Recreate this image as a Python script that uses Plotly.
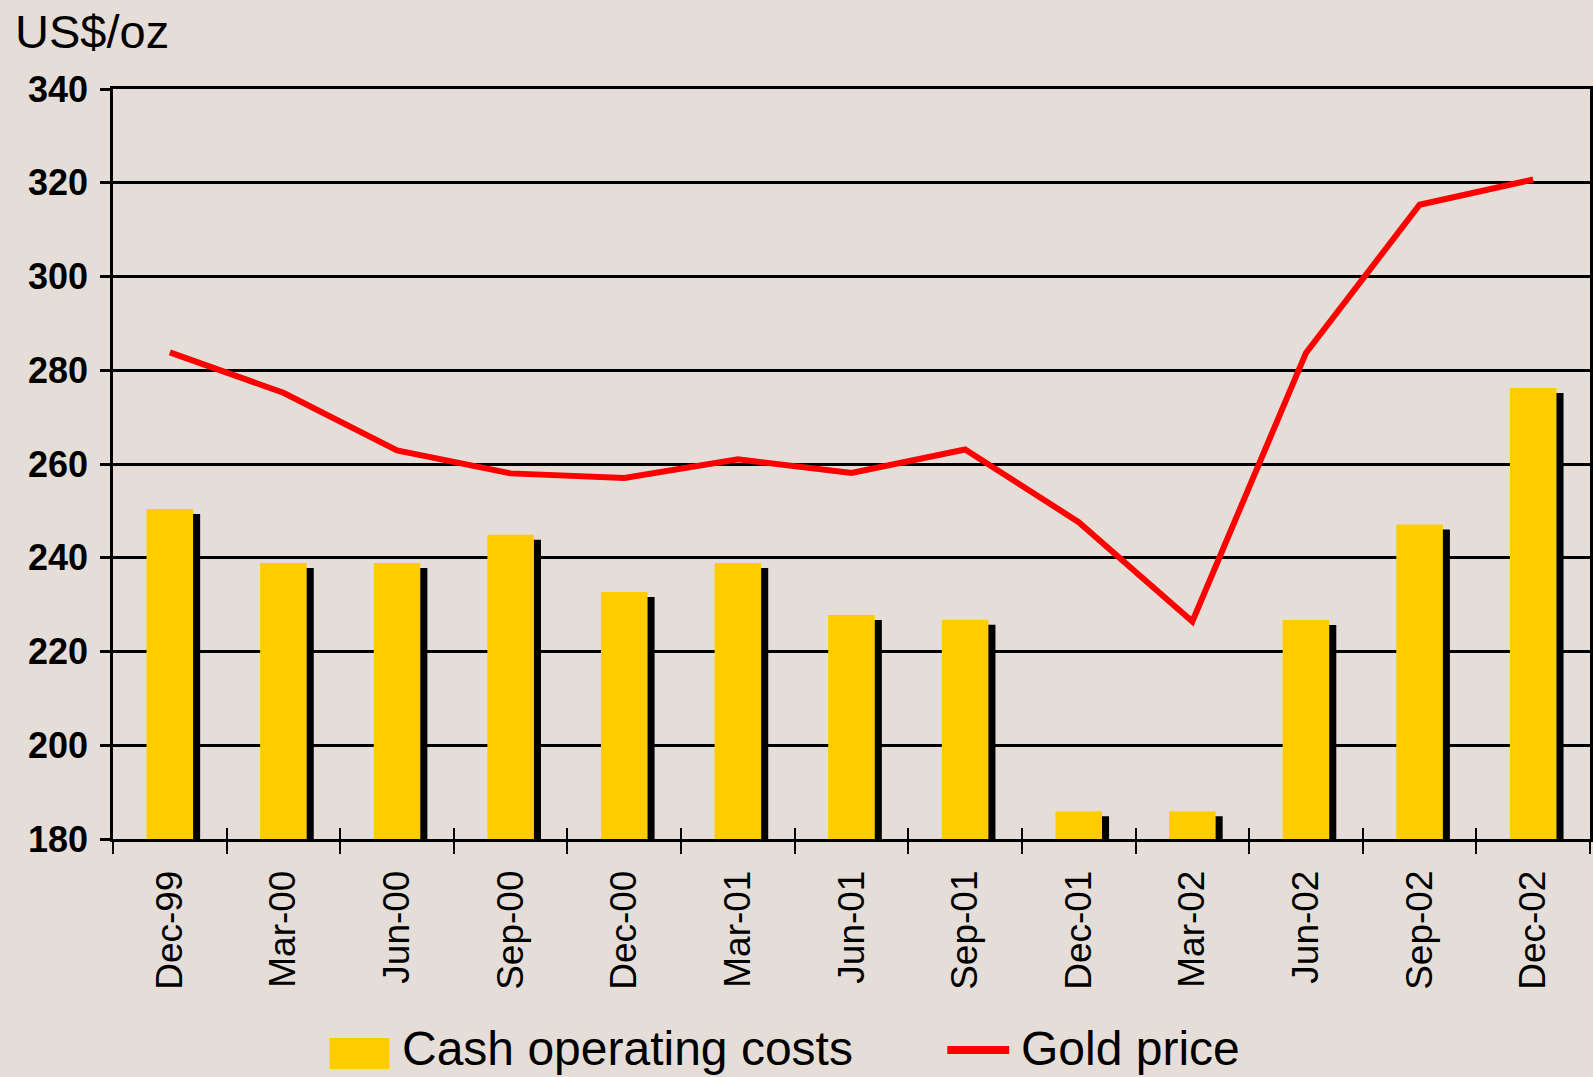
import plotly.graph_objects as go

# ---- data ----
quarters = ["Dec-99", "Mar-00", "Jun-00", "Sep-00", "Dec-00", "Mar-01", "Jun-01",
            "Sep-01", "Dec-01", "Mar-02", "Jun-02", "Sep-02", "Dec-02"]
cash_costs = [250.4, 238.9, 238.9, 244.9, 232.7, 238.9, 227.8, 226.8, 185.9, 185.9, 226.7, 247.1, 276.2]
gold_price = [283.8, 275.2, 262.9, 258.0, 257.0, 261.0, 258.1, 263.1, 247.6, 226.4, 283.7, 315.3, 320.7]
y_ticks = [180, 200, 220, 240, 260, 280, 300, 320, 340]

# ---- style / layout constants ----
W, H = 1593, 1077
L, R, T, B = 113, 0, 89, 238
PW, PH = W - L - R, H - T - B
BG = "#E5DED8"
YELLOW = "#FFCC00"
RED = "#FF0000"
FONT = "Liberation Sans, Arial, sans-serif"
BAR_W = 0.41
SHADOW_DX = 0.062      # category units
SHADOW_DY = 1.07       # data units (downward)
SHADOW_BASE = 180 - 0.85


def px_x(p):
    return (p - L) / PW


def px_y(p):
    return (H - B - p) / PH


shadow_heights = [c - SHADOW_DY - SHADOW_BASE for c in cash_costs]

fig = go.Figure()
fig.add_trace(go.Bar(
    x=quarters, y=shadow_heights, base=SHADOW_BASE,
    width=BAR_W, offset=-BAR_W / 2 + SHADOW_DX,
    marker=dict(color="black", line=dict(width=0)),
    xaxis="x", yaxis="y", cliponaxis=False, showlegend=False, hoverinfo="skip",
))
fig.add_trace(go.Bar(
    x=quarters, y=[c - 180 for c in cash_costs], base=180,
    width=BAR_W,
    marker=dict(color=YELLOW, line=dict(width=0)),
    xaxis="x2", yaxis="y", name="Cash operating costs", showlegend=False,
))
fig.add_trace(go.Scatter(
    x=quarters, y=gold_price, mode="lines",
    line=dict(color=RED, width=6),
    xaxis="x2", yaxis="y", name="Gold price", showlegend=False,
))

common_x = dict(
    type="category", categoryorder="array", categoryarray=quarters,
    range=[-0.5, len(quarters) - 0.5], tickson="boundaries",
)

fig.update_layout(
    width=W, height=H,
    margin=dict(l=L, r=R, t=T, b=B, pad=0),
    paper_bgcolor=BG, plot_bgcolor=BG,
    barmode="overlay",
    font=dict(family=FONT, color="black"),
    showlegend=False,
    xaxis=dict(
        **common_x,
        showline=True, linecolor="black", linewidth=2.5, mirror=True,
        showgrid=False,
        ticks="outside", ticklen=12, tickwidth=2, tickcolor="black",
        tickangle=-90, ticklabelstandoff=14,
        tickfont=dict(family=FONT, size=37, color="black"),
    ),
    xaxis2=dict(
        **common_x,
        overlaying="x", anchor="y", side="bottom",
        showline=False, showgrid=False,
        ticks="inside", ticklen=11, tickwidth=2, tickcolor="black",
        showticklabels=False,
    ),
    yaxis=dict(
        range=[180, 340], tickvals=y_ticks,
        showline=True, linecolor="black", linewidth=2.5, mirror=True,
        showgrid=True, gridcolor="black", gridwidth=2.5,
        ticks="outside", ticklen=10, tickwidth=2.5, tickcolor="black",
        ticklabelstandoff=5,
        tickfont=dict(family=FONT, size=36, color="black", weight="bold"),
        zeroline=False,
    ),
)

# axis unit title
fig.add_annotation(
    text="US$/oz", xref="paper", yref="paper",
    x=px_x(13), y=px_y(31), xanchor="left", yanchor="middle",
    showarrow=False, font=dict(family=FONT, size=47, color="black"),
)

# manual legend (large glyphs as in the original)
LEG_Y = 1048
fig.add_shape(type="rect", xref="paper", yref="paper",
              x0=px_x(330), x1=px_x(390), y0=px_y(1069), y1=px_y(1038),
              fillcolor=YELLOW, line=dict(width=0))
fig.add_annotation(text="Cash operating costs", xref="paper", yref="paper",
                   x=px_x(401), y=px_y(LEG_Y), xanchor="left", yanchor="middle",
                   showarrow=False, font=dict(family=FONT, size=48, color="black"))
fig.add_shape(type="line", xref="paper", yref="paper",
              x0=px_x(949), x1=px_x(1011), y0=px_y(1050), y1=px_y(1050),
              line=dict(color=RED, width=8))
fig.add_annotation(text="Gold price", xref="paper", yref="paper",
                   x=px_x(1021), y=px_y(LEG_Y), xanchor="left", yanchor="middle",
                   showarrow=False, font=dict(family=FONT, size=48, color="black"))

fig.write_html("out.html", config={"displayModeBar": False},
               post_script="document.body.style.margin='0';")
